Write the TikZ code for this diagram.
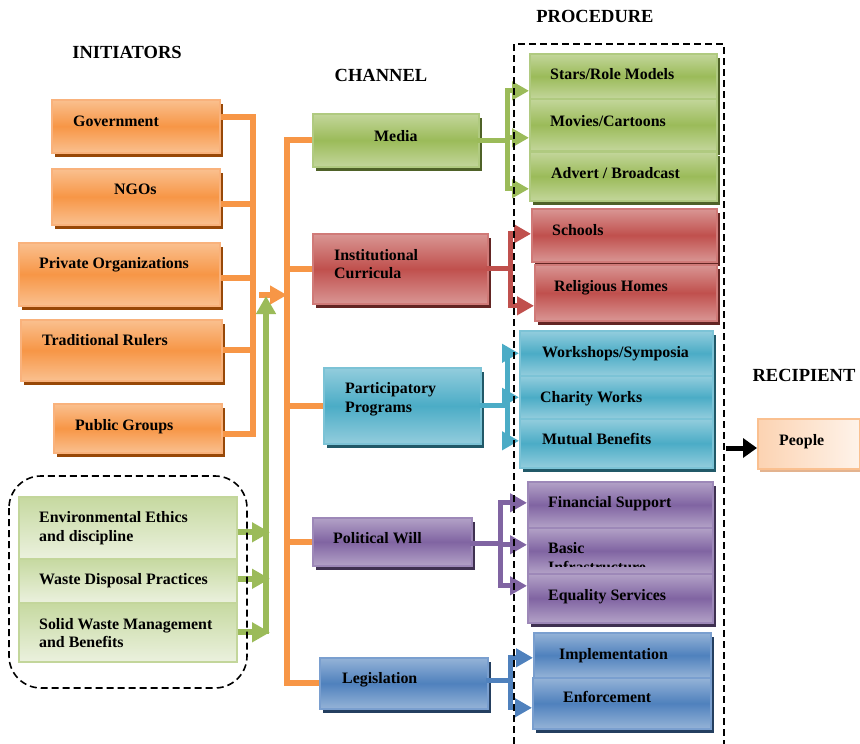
\documentclass[tikz,border=0pt]{standalone}
\usepackage{fontspec}
\setmainfont{Liberation Serif}
\usetikzlibrary{arrows.meta,shadows}
\definecolor{oL}{HTML}{FAC08F}\definecolor{oM}{HTML}{F79646}\definecolor{oB}{HTML}{F9B27C}\definecolor{oS}{HTML}{984807}
\definecolor{gL}{HTML}{C3D69B}\definecolor{gM}{HTML}{9BBB59}\definecolor{gB}{HTML}{B0CA80}\definecolor{gS}{HTML}{4F6228}
\definecolor{rL}{HTML}{D99694}\definecolor{rM}{HTML}{C0504D}\definecolor{rB}{HTML}{D07A78}\definecolor{rS}{HTML}{632523}
\definecolor{tL}{HTML}{93CDDD}\definecolor{tM}{HTML}{4BACC6}\definecolor{tB}{HTML}{7CC3D6}\definecolor{tS}{HTML}{215968}
\definecolor{pL}{HTML}{B3A2C7}\definecolor{pM}{HTML}{8064A2}\definecolor{pB}{HTML}{9D88B8}\definecolor{pS}{HTML}{3F3151}
\definecolor{bL}{HTML}{95B3D7}\definecolor{bM}{HTML}{4F81BD}\definecolor{bB}{HTML}{7A9FCF}\definecolor{bS}{HTML}{243F60}
\definecolor{lgT}{HTML}{C6D9A0}\definecolor{lgBo}{HTML}{EBF1DE}\definecolor{lgE}{HTML}{C3D69B}
\definecolor{peL}{HTML}{FCD3B2}\definecolor{peR}{HTML}{FEF3EA}\definecolor{peB}{HTML}{FAC090}\definecolor{peS}{HTML}{E3B38F}
\newcommand\bx[6]{\node[#1,minimum width={#4-#2},minimum height={#5-#3}] (#6) at (#2,#3) {};}
\newcommand\tx[4]{\node[txt] (#1) at (#2,#3) {#4};}
\begin{document}
\begin{tikzpicture}[x=1pt,y=-1pt,
  txt/.style={font=\bfseries\fontsize{15.9}{19}\selectfont, inner sep=0pt, anchor=base west},
  ttl/.style={font=\bfseries\fontsize{18.5}{22}\selectfont, inner sep=0pt, anchor=base},
  bxbase/.style={anchor=north west, inner sep=0pt, line width=1.6pt},
  obox/.style={bxbase, draw=oB, top color=oL, bottom color=oL, middle color=oM, general shadow={fill=oS, shadow xshift=3pt, shadow yshift=-4pt}},
  gbox/.style={bxbase, draw=gB, top color=gL, bottom color=gL, middle color=gM, general shadow={fill=gS, shadow xshift=3pt, shadow yshift=-4pt}},
  rbox/.style={bxbase, draw=rB, top color=rL, bottom color=rL, middle color=rM, general shadow={fill=rS, shadow xshift=3pt, shadow yshift=-4pt}},
  tbox/.style={bxbase, draw=tB, top color=tL, bottom color=tL, middle color=tM, general shadow={fill=tS, shadow xshift=3pt, shadow yshift=-4pt}},
  pbox/.style={bxbase, draw=pB, top color=pL, bottom color=pL, middle color=pM, general shadow={fill=pS, shadow xshift=3pt, shadow yshift=-4pt}},
  bbox/.style={bxbase, draw=bB, top color=bL, bottom color=bL, middle color=bM, general shadow={fill=bS, shadow xshift=3pt, shadow yshift=-4pt}},
  lgbox/.style={bxbase, draw=lgE, top color=lgT, bottom color=lgBo},
  pebox/.style={bxbase, draw=peB, left color=peL, right color=peR, general shadow={fill=peS, shadow xshift=2pt, shadow yshift=-3pt}},
  oline/.style={draw=oM, line width=6pt, line cap=rect},
  obr/.style={draw=oM, line width=6pt},
  oarr/.style={draw=oM, line width=6pt, -{Triangle[length=17pt,width=18pt]}},
  grarr/.style={draw=gM, line width=6pt, -{Triangle[length=18pt,width=19pt]}},
  cline/.style={line width=5pt, line cap=rect},
  carr/.style={line width=5pt, -{Triangle[length=17pt,width=18pt]}},
  karr/.style={draw=black, line width=5pt, -{Triangle[length=14pt,width=19pt]}},
  dsh/.style={draw=black, line width=1.6pt, dash pattern=on 7pt off 4pt}
]
\useasboundingbox (0,0) rectangle (860,744);

% titles
\node[ttl] (tInit) at (127,58.5) {INITIATORS};
\node[ttl] (tChan) at (381,81) {CHANNEL};
\node[ttl] (tProc) at (595,22) {PROCEDURE};
\node[ttl] (tRec) at (804,381) {RECIPIENT};

% initiators
\bx{obox}{51}{99}{219}{152}{gov}
\bx{obox}{51}{168}{219}{224}{ngo}
\bx{obox}{18}{242}{219}{305}{priv}
\bx{obox}{20}{319}{221}{380}{trad}
\bx{obox}{53}{403}{221}{452}{pub}
\tx{govT}{73}{126.5}{Government}
\tx{ngoT}{114}{194.5}{NGOs}
\tx{privT}{39}{268.5}{Private Organizations}
\tx{tradT}{42}{345.5}{Traditional Rulers}
\tx{pubT}{75}{430.5}{Public Groups}

\bx{lgbox}{18}{496}{236}{558}{env}
\bx{lgbox}{18}{558}{236}{602}{wdp}
\bx{lgbox}{18}{602}{236}{661}{swm}
\tx{envT1}{39}{522.5}{Environmental Ethics}
\tx{envT2}{39}{541.5}{and discipline}
\tx{wdpT}{39}{584.5}{Waste Disposal Practices}
\tx{swmT1}{39}{629.5}{Solid Waste Management}
\tx{swmT2}{39}{647.5}{and Benefits}

% channels
\bx{gbox}{312}{113}{478}{166}{media}
\bx{rbox}{312}{233}{487}{303}{inst}
\bx{tbox}{323}{367}{480}{443}{part}
\bx{pbox}{312}{517}{471}{565}{pol}
\bx{bbox}{319}{657}{487}{708}{leg}
\tx{mediaT}{374}{141.5}{Media}
\tx{instT1}{334}{260.5}{Institutional}
\tx{instT2}{334}{278.5}{Curricula}
\tx{partT1}{345}{393.5}{Participatory}
\tx{partT2}{345}{412.5}{Programs}
\tx{polT}{333}{543.5}{Political Will}
\tx{legT}{342}{683.5}{Legislation}

% procedures
\bx{gbox}{529}{53}{716}{98}{stars}
\bx{gbox}{529}{98}{716}{150}{movies}
\bx{gbox}{529}{151}{716}{200}{advert}
\bx{rbox}{531}{208}{716}{261}{schools}
\bx{rbox}{534}{264}{716}{320}{relig}
\bx{tbox}{519}{330}{712}{375}{work}
\bx{tbox}{519}{375}{712}{418}{charity}
\bx{tbox}{519}{418}{712}{467}{mutual}
\bx{pbox}{527}{481}{712}{527}{fin}
\bx{pbox}{527}{527}{712}{573}{basic}
\begin{scope}
\clip (530,530) rectangle (705,566);
\tx{basicT1}{548}{553.5}{Basic}
\tx{basicT2}{548}{572.5}{Infrastructure}
\end{scope}
\bx{pbox}{527}{573}{712}{622}{equal}
\bx{bbox}{533}{632}{710}{677}{impl}
\bx{bbox}{532}{677}{710}{728}{enf}
\tx{starsT}{550}{79.5}{Stars/Role Models}
\tx{moviesT}{550}{126.5}{Movies/Cartoons}
\tx{advertT}{551}{178.5}{Advert / Broadcast}
\tx{schoolsT}{552}{235.5}{Schools}
\tx{religT}{554}{291.5}{Religious Homes}
\tx{workT}{542}{357.5}{Workshops/Symposia}
\tx{charityT}{540}{402.5}{Charity Works}
\tx{mutualT}{542}{444.5}{Mutual Benefits}
\tx{finT}{548}{507.5}{Financial Support}
\tx{equalT}{548}{600.5}{Equality Services}
\tx{implT}{559}{659.5}{Implementation}
\tx{enfT}{563}{702.5}{Enforcement}

% recipient
\bx{pebox}{757}{418}{859}{468}{people}
\tx{peopleT}{779}{445.5}{People}

% bus coordinates
\coordinate (ib) at (253,0);
\coordinate (cb) at (287,0);
\coordinate (oa0) at (259,295);
\coordinate (gv0) at (266,634);
\coordinate (gv1) at (266,296);
\coordinate (gvR) at (270,0);
\coordinate (mb) at (507,0);
\coordinate (rb) at (510,0);
\coordinate (tb) at (507,0);
\coordinate (pb) at (500,0);
\coordinate (bb) at (510,0);
\coordinate (pr) at (726,448);

% initiator bus
\draw[obr] ([yshift=9.5pt]gov.east) -- ([yshift=9.5pt]gov.east -| ib);
\draw[obr] ([yshift=-7pt]ngo.east) -- ([yshift=-7pt]ngo.east -| ib);
\draw[obr] ([yshift=-3.5pt]priv.east) -- ([yshift=-3.5pt]priv.east -| ib);
\draw[obr] (trad.east) -- (trad.east -| ib);
\draw[obr] ([yshift=-5.5pt]pub.east) -- ([yshift=-5.5pt]pub.east -| ib);
\draw[oline] ([yshift=9.5pt]gov.east -| ib) -- ([yshift=-5.5pt]pub.east -| ib);
\draw[oarr] (oa0) -- (oa0 -| cb);

% green arrows
\draw[grarr] ([yshift=-4.5pt]env.east) -- ([yshift=-4.5pt]env.east -| gvR);
\draw[grarr] ([yshift=2pt]wdp.east) -- ([yshift=2pt]wdp.east -| gvR);
\draw[grarr] (swm.east) -- (swm.east -| gvR);
\draw[grarr] (gv0) -- (gv1);

% channel bus
\draw[oline] (media.west -| cb) -- (leg.west -| cb);
\draw[obr] (media.west -| cb) -- (media.west);
\draw[obr] (inst.west -| cb) -- (inst.west);
\draw[obr] (part.west -| cb) -- (part.west);
\draw[obr] (pol.west -| cb) -- (pol.west);
\draw[obr] (leg.west -| cb) -- (leg.west);

% media -> procedures
\draw[cline, draw=gM] (media.east) -- (media.east -| mb);
\draw[cline, draw=gM] ([yshift=-14.5pt]stars.west -| mb) -- ([yshift=-12.5pt]advert.west -| mb);
\draw[carr, draw=gM] ([yshift=-14.5pt]stars.west -| mb) -- ([yshift=-14.5pt]stars.west);
\draw[carr, draw=gM] ([yshift=-13pt]movies.west -| mb) -- ([yshift=-13pt]movies.west);
\draw[carr, draw=gM] ([yshift=-12.5pt]advert.west -| mb) -- ([yshift=-12.5pt]advert.west);

% institutional
\draw[cline, draw=rM] (inst.east) -- (inst.east -| rb);
\draw[cline, draw=rM] ([yshift=1.5pt]schools.west -| rb) -- ([yshift=-13pt]relig.west -| rb);
\draw[carr, draw=rM] ([yshift=1.5pt]schools.west -| rb) -- ([yshift=1.5pt]schools.west);
\draw[carr, draw=rM] ([yshift=-13pt]relig.west -| rb) -- ([yshift=-13pt]relig.west);

% participatory
\draw[cline, draw=tM] (part.east) -- (part.east -| tb);
\draw[cline, draw=tM] (work.west -| tb) -- ([yshift=2.5pt]mutual.west -| tb);
\draw[carr, draw=tM] (work.west -| tb) -- (work.west);
\draw[carr, draw=tM] (charity.west -| tb) -- (charity.west);
\draw[carr, draw=tM] ([yshift=2.5pt]mutual.west -| tb) -- ([yshift=2.5pt]mutual.west);

% political
\draw[cline, draw=pM] ([yshift=-2pt]pol.east) -- ([yshift=-2pt]pol.east -| pb);
\draw[cline, draw=pM] ([yshift=2pt]fin.west -| pb) -- ([yshift=12.5pt]equal.west -| pb);
\draw[carr, draw=pM] ([yshift=2pt]fin.west -| pb) -- ([yshift=2pt]fin.west);
\draw[carr, draw=pM] ([yshift=6pt]basic.west -| pb) -- ([yshift=6pt]basic.west);
\draw[carr, draw=pM] ([yshift=12.5pt]equal.west -| pb) -- ([yshift=12.5pt]equal.west);

% legislation
\draw[cline, draw=bM] ([yshift=2.5pt]leg.east) -- ([yshift=2.5pt]leg.east -| bb);
\draw[cline, draw=bM] ([yshift=-2.5pt]impl.west -| bb) -- ([yshift=-4.5pt]enf.west -| bb);
\draw[carr, draw=bM] ([yshift=-2.5pt]impl.west -| bb) -- ([yshift=-2.5pt]impl.west);
\draw[carr, draw=bM] ([yshift=-4.5pt]enf.west -| bb) -- ([yshift=-4.5pt]enf.west);

% recipient arrow
\draw[karr] (pr) -- (pr -| people.west);

% dashed frames
\draw[dsh, rounded corners=32pt] (9,476) rectangle (247,688);
\draw[dsh] (514,744) -- (514,44) -- (724,44) -- (724,744);
\end{tikzpicture}
\end{document}
